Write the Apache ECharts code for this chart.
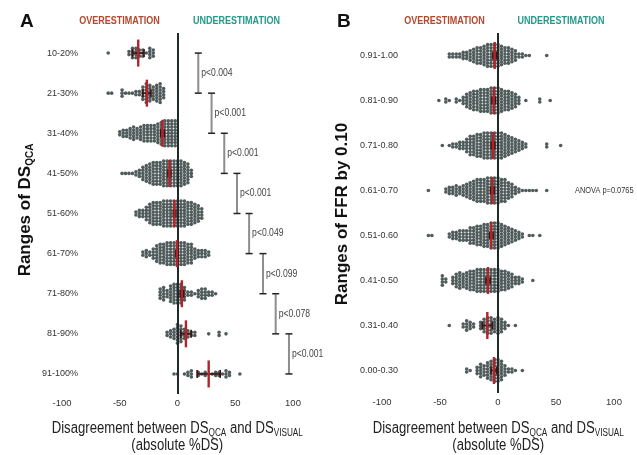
<!DOCTYPE html>
<html>
<head>
<meta charset="utf-8">
<script src="https://cdn.jsdelivr.net/npm/echarts@6/dist/echarts.min.js"></script>
<style>
html,body{margin:0;padding:0;background:#fff;}
#chart{width:637px;height:455px;}
</style>
</head>
<body>
<div id="chart"></div>
<script>
// ---------- DATA ----------
const catA = ['10-20%','21-30%','31-40%','41-50%','51-60%','61-70%','71-80%','81-90%','91-100%'];
const catB = ['0.91-1.00','0.81-0.90','0.71-0.80','0.61-0.70','0.51-0.60','0.41-0.50','0.31-0.40','0.00-0.30'];
const xTicks = [-100, -50, 0, 50, 100];

// swarm data per row: [disagreement value, number of dots at that value]
const a1 = [[-60,1],[-42,2],[-39,4],[-36,4],[-33,3],[-30,3],[-27,1],[-24,4],[-21,3]];
const a2 = [[-60,1],[-57,1],[-48,3],[-45,1],[-42,1],[-39,1],[-36,2],[-33,2],[-30,5],[-27,7],[-24,6],[-21,5],[-18,6],[-15,7],[-12,4]];
const a3 = [[-50,2],[-47,3],[-44,3],[-41,4],[-38,5],[-35,4],[-32,5],[-29,6],[-26,6],[-23,6],[-20,6],[-17,7],[-14,8],[-11,9],[-8,9],[-5,9],[-2,9]];
const a4 = [[-48,1],[-45,1],[-42,1],[-39,1],[-36,2],[-33,3],[-30,5],[-27,6],[-24,7],[-21,8],[-18,8],[-15,8],[-12,9],[-9,9],[-6,9],[-3,9],[0,9],[3,9],[6,8],[9,7],[12,3]];
const a5 = [[-36,2],[-33,3],[-30,3],[-27,5],[-24,7],[-21,8],[-18,8],[-15,8],[-12,9],[-9,9],[-6,9],[-3,9],[0,9],[3,9],[6,9],[9,8],[12,8],[15,7],[18,6],[21,4]];
const a6 = [[-30,2],[-27,3],[-24,2],[-21,4],[-18,6],[-15,7],[-12,7],[-9,8],[-6,8],[-3,8],[0,8],[3,8],[6,8],[9,7],[12,7],[15,4],[18,3],[21,3],[24,3],[27,2]];
const a7 = [[-15,4],[-12,5],[-9,3],[-6,6],[-3,7],[0,7],[3,7],[6,5],[9,2],[12,2],[15,1],[18,3],[21,4],[24,4],[27,2],[30,2],[33,1]];
const a8 = [[-9,2],[-6,3],[-3,4],[0,7],[3,6],[6,4],[9,3],[12,2],[15,2],[27,1],[36,2],[42,1]];
const a9 = [[-3,1],[0,1],[6,1],[9,2],[12,3],[18,2],[21,1],[24,2],[27,1],[30,1],[33,2],[36,2],[39,1],[42,3],[45,2],[54,1]];

const b1 = [[-42,2],[-39,2],[-36,2],[-33,2],[-30,3],[-27,3],[-24,4],[-21,5],[-18,6],[-15,6],[-12,7],[-9,8],[-6,8],[-3,8],[0,8],[3,7],[6,6],[9,6],[12,5],[15,4],[18,2],[21,2],[24,1],[27,1],[42,1]];
const b2 = [[-51,1],[-45,2],[-42,1],[-36,2],[-33,1],[-30,3],[-27,5],[-24,6],[-21,7],[-18,7],[-15,8],[-12,8],[-9,8],[-6,9],[-3,9],[0,9],[3,8],[6,7],[9,7],[12,6],[15,5],[18,3],[24,1],[36,2],[45,1]];
const b3 = [[-48,1],[-42,1],[-39,2],[-36,2],[-33,3],[-30,3],[-27,5],[-24,7],[-21,7],[-18,8],[-15,8],[-12,9],[-9,9],[-6,9],[-3,9],[0,9],[3,9],[6,8],[9,7],[12,6],[15,5],[18,4],[21,3],[24,2],[42,2],[54,1]];
const b4 = [[-60,1],[-45,2],[-42,3],[-39,3],[-36,4],[-33,3],[-30,4],[-27,5],[-24,6],[-21,7],[-18,8],[-15,8],[-12,8],[-9,9],[-6,9],[-3,9],[0,9],[3,8],[6,8],[9,6],[12,5],[15,3],[18,2],[21,1],[24,1],[27,1],[30,1],[33,1],[42,1]];
const b5 = [[-60,1],[-57,1],[-42,2],[-39,3],[-36,3],[-33,4],[-30,4],[-27,4],[-24,6],[-21,6],[-18,7],[-15,7],[-12,8],[-9,8],[-6,9],[-3,9],[0,9],[3,8],[6,7],[9,6],[12,5],[15,4],[18,3],[21,2],[27,1],[30,1],[36,1]];
const b6 = [[-48,4],[-45,2],[-39,3],[-36,5],[-33,6],[-30,5],[-27,6],[-24,7],[-21,7],[-18,8],[-15,8],[-12,8],[-9,8],[-6,8],[-3,8],[0,8],[3,7],[6,7],[9,6],[12,5],[15,3],[18,3],[21,2],[30,1]];
const b7 = [[-42,1],[-30,2],[-27,4],[-24,3],[-21,2],[-15,3],[-12,5],[-9,6],[-6,6],[-3,5],[0,6],[3,5],[6,3],[9,1],[15,1]];
const b8 = [[-27,2],[-24,1],[-18,3],[-15,5],[-12,4],[-9,6],[-6,7],[-3,8],[0,8],[3,7],[6,4],[9,2],[12,2],[15,1],[21,1]];

// mean and error half-width per row
const meanA = [-34, -26.5, -13, -7, -2.6, -0.5, 3.8, 7.3, 27];
const errA  = [5, 3.5, 1.5, 1.2, 1, 1, 1.5, 4.5, 10];
const meanB = [-2.9, -3.7, -4.3, -4.9, -5.8, -8.6, -9.2, -3.5];
const errB  = [1.5, 1.5, 1.5, 1.5, 1.5, 1.8, 4.3, 2.5];

// significance brackets between consecutive rows of panel A
const bracketX = [18, 29.5, 40.5, 51.5, 62, 74, 85, 96.5];
const bracketP = ['p<0.004','p<0.001','p<0.001','p<0.001','p<0.049','p<0.099','p<0.078','p<0.001'];
const anovaText = 'ANOVA p=0.0765';

// ---------- BUILD ----------
const rowsA = [a1,a2,a3,a4,a5,a6,a7,a8,a9];
const rowsB = [b1,b2,b3,b4,b5,b6,b7,b8];
const SANS = "'Liberation Sans','Helvetica','Arial',sans-serif";
const DOT = '#384544';
const NX = 0.82; // horizontal squeeze to mimic condensed type

function swarm(rows, spacing) {
  const out = [];
  rows.forEach((row, ri) => {
    row.forEach(([v, n]) => {
      for (let k = 0; k < n; k++) {
        out.push({ value: [v, ri], symbolOffset: [0, (k - (n - 1) / 2) * spacing] });
      }
    });
  });
  return out;
}

function meanMarker(params, api) {
  const m = api.value(0), r = api.value(1), e = api.value(2);
  const c = api.coord([m, r]);
  const l = api.coord([m - e, r]);
  const rr = api.coord([m + e, r]);
  const ec = '#3a1212';
  return {
    type: 'group',
    children: [
      { type: 'line', shape: { x1: l[0], y1: c[1], x2: rr[0], y2: c[1] }, style: { stroke: ec, lineWidth: 1.6 } },
      { type: 'line', shape: { x1: l[0], y1: c[1] - 4, x2: l[0], y2: c[1] + 4 }, style: { stroke: ec, lineWidth: 1.6 } },
      { type: 'line', shape: { x1: rr[0], y1: c[1] - 4, x2: rr[0], y2: c[1] + 4 }, style: { stroke: ec, lineWidth: 1.6 } },
      { type: 'line', shape: { x1: c[0], y1: c[1] - 13.5, x2: c[0], y2: c[1] + 13.5 }, style: { stroke: '#b3232a', lineWidth: 2.4 } }
    ]
  };
}

function bracket(params, api) {
  const x = api.value(0), r = api.value(1);
  const p1 = api.coord([x, r]);
  const p2 = api.coord([x, r + 1]);
  return {
    type: 'group',
    children: [
      { type: 'line', shape: { x1: p1[0], y1: p1[1], x2: p2[0], y2: p2[1] }, style: { stroke: '#8d8d8d', lineWidth: 2 } },
      { type: 'line', shape: { x1: p1[0] - 3.5, y1: p1[1], x2: p1[0] + 3.5, y2: p1[1] }, style: { stroke: '#222', lineWidth: 1.5 } },
      { type: 'line', shape: { x1: p2[0] - 3.5, y1: p2[1], x2: p2[0] + 3.5, y2: p2[1] }, style: { stroke: '#222', lineWidth: 1.5 } },
      { type: 'text', x: p1[0] + 3, y: (p1[1] + p2[1]) / 2, scaleX: NX,
        style: { text: bracketP[params.dataIndex], fontSize: 10.5, fontFamily: SANS, fill: '#444', verticalAlign: 'middle', align: 'left' } }
    ]
  };
}

function xAxisCfg(gi) {
  return {
    gridIndex: gi, type: 'value', min: xTicks[0], max: xTicks[xTicks.length - 1], interval: 50,
    axisLine: { lineStyle: { color: '#151515', width: 2 } },
    axisTick: { length: 4, lineStyle: { color: '#151515', width: 1.5 } },
    axisLabel: { fontSize: 9.5, color: '#333', fontFamily: SANS, margin: 4 },
    splitLine: { show: false }
  };
}
function yAxisCfg(gi, cats) {
  return {
    gridIndex: gi, type: 'category', data: cats, inverse: true, offset: -18,
    axisLine: { show: false }, axisTick: { show: false },
    axisLabel: { fontSize: 9, color: '#333', fontFamily: SANS, margin: 2 },
    splitLine: { show: false }
  };
}

const zeroLine = {
  silent: true, symbol: 'none', animation: false,
  label: { show: false },
  lineStyle: { color: '#1f2b2b', width: 2, type: 'solid' },
  data: [{ xAxis: 0 }]
};

function xName(cx) {
  return [
    { type: 'text', x: cx, y: 429, scaleX: NX,
      style: { text: '{t|Disagreement between DS}{s|QCA}{t| and DS}{s|VISUAL}', align: 'center', verticalAlign: 'middle',
        rich: { t: { fontSize: 16, fontFamily: SANS, fill: '#222', lineHeight: 18 },
                s: { fontSize: 10, fontFamily: SANS, fill: '#222', lineHeight: 18, verticalAlign: 'bottom' } } } },
    { type: 'text', x: cx, y: 446, scaleX: NX,
      style: { text: '(absolute %DS)', fontSize: 16, fontFamily: SANS, fill: '#222', align: 'center', verticalAlign: 'middle' } }
  ];
}
function header(x, txt, col) {
  return { type: 'text', x: x, y: 21, scaleX: NX,
    style: { text: txt, font: "bold 11px " + SANS, fill: col, align: 'center', verticalAlign: 'middle' } };
}

const chart = echarts.init(document.getElementById('chart'), null, { renderer: 'canvas' });
chart.setOption({
  animation: false,
  backgroundColor: '#fff',
  grid: [
    { left: 62, right: 344, top: 33, bottom: 61 },
    { left: 382, right: 23, top: 33, bottom: 62 }
  ],
  xAxis: [xAxisCfg(0), xAxisCfg(1)],
  yAxis: [yAxisCfg(0, catA), yAxisCfg(1, catB)],
  series: [
    { type: 'scatter', xAxisIndex: 0, yAxisIndex: 0, symbolSize: 3.6, itemStyle: { color: DOT, opacity: 0.88 },
      data: swarm(rowsA, 3.1), markLine: zeroLine, z: 2 },
    { type: 'scatter', xAxisIndex: 1, yAxisIndex: 1, symbolSize: 3.6, itemStyle: { color: DOT, opacity: 0.88 },
      data: swarm(rowsB, 3.1), markLine: zeroLine, z: 2 },
    { type: 'custom', xAxisIndex: 0, yAxisIndex: 0, renderItem: meanMarker, encode: { x: 0, y: 1 },
      data: meanA.map((m, i) => [m, i, errA[i]]), z: 5 },
    { type: 'custom', xAxisIndex: 1, yAxisIndex: 1, renderItem: meanMarker, encode: { x: 0, y: 1 },
      data: meanB.map((m, i) => [m, i, errB[i]]), z: 5 },
    { type: 'custom', xAxisIndex: 0, yAxisIndex: 0, renderItem: bracket, encode: { x: 0, y: 1 },
      data: bracketX.map((x, i) => [x, i]), z: 4, clip: false }
  ],
  graphic: [
    { type: 'text', left: 20, top: 12, style: { text: 'A', font: "bold 19px " + SANS, fill: '#111' } },
    { type: 'text', left: 337, top: 12, style: { text: 'B', font: "bold 19px " + SANS, fill: '#111' } },
    header(119.5, 'OVERESTIMATION', '#b4472d'),
    header(236.5, 'UNDERESTIMATION', '#24998b'),
    header(444.5, 'OVERESTIMATION', '#b4472d'),
    header(561, 'UNDERESTIMATION', '#24998b'),
    { type: 'text', x: 25, y: 210, rotation: Math.PI / 2,
      style: { text: '{b|Ranges of DS}{s|QCA}', align: 'center', verticalAlign: 'middle',
        rich: { b: { font: "bold 17px " + SANS, fill: '#111', lineHeight: 20 },
                s: { font: "bold 10px " + SANS, fill: '#111', lineHeight: 20, verticalAlign: 'bottom' } } } },
    { type: 'text', x: 342, y: 214, rotation: Math.PI / 2,
      style: { text: 'Ranges of FFR by 0.10', font: "bold 17px " + SANS, fill: '#111', align: 'center', verticalAlign: 'middle' } },
    { type: 'text', x: 575, y: 190.5, scaleX: 0.78, style: { text: anovaText, font: "9.5px " + SANS, fill: '#333', verticalAlign: 'middle' } },
    ...xName(177.3),
    ...xName(498.3)
  ]
});
</script>
</body>
</html>
